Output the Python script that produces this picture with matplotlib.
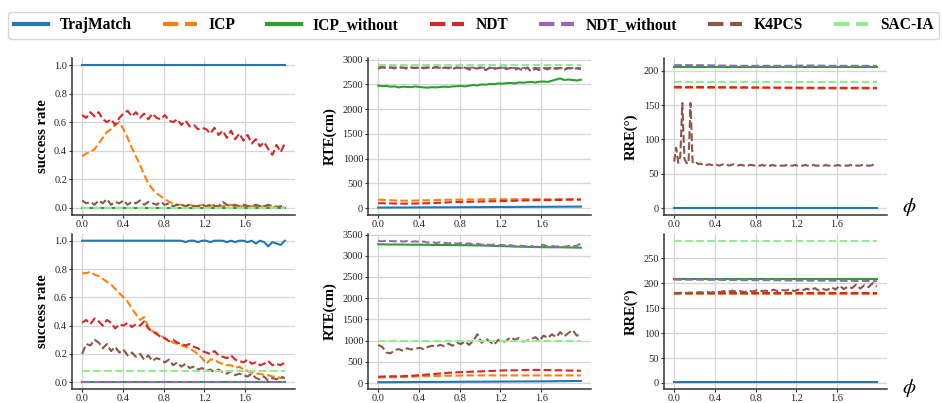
import numpy as np
import matplotlib
matplotlib.use('Agg')
import matplotlib.pyplot as plt
from matplotlib.lines import Line2D

plt.rcParams['font.family'] = ['Liberation Serif', 'DejaVu Serif']
plt.rcParams['mathtext.fontset'] = 'stix'

# ---------------- data ----------------
methods = ['TrajMatch', 'ICP', 'ICP_without', 'NDT', 'NDT_without', 'K4PCS', 'SAC-IA']
colors = ['#1f77b4', '#ff7f0e', '#2ca02c', '#d62728', '#9467bd', '#8c564b', '#90ee90']
styles = ['-', '--', '-', '--', '--', '--', '--']

x_start, x_end = 0.0, 1.99
xticks = [0.0, 0.4, 0.8, 1.2, 1.6]
xticklabels = ['0.0', '0.4', '0.8', '1.2', '1.6']

# success rate, scenario 1
sr1_traj = 1.0
sr1_icp = [0.36, 0.38, 0.39, 0.41, 0.45, 0.49, 0.53, 0.55, 0.58, 0.60,
           0.55, 0.49, 0.42, 0.36, 0.30, 0.23, 0.17, 0.13, 0.10, 0.08,
           0.06, 0.04, 0.03, 0.02, 0.02, 0.01, 0.02, 0.01, 0.01, 0.02,
           0.01, 0.01, 0.02, 0.01, 0.01, 0.01, 0.02, 0.01, 0.01, 0.01,
           0.02, 0.01, 0.01, 0.01, 0.01, 0.01, 0.00, 0.01, 0.00, 0.00]
sr1_icpw = 0.0
sr1_ndt = [0.65, 0.63, 0.67, 0.64, 0.67, 0.62, 0.60, 0.62, 0.58, 0.63,
           0.66, 0.68, 0.64, 0.67, 0.63, 0.66, 0.62, 0.66, 0.63, 0.62,
           0.65, 0.61, 0.60, 0.62, 0.58, 0.61, 0.57, 0.58, 0.55, 0.56,
           0.55, 0.52, 0.56, 0.51, 0.54, 0.49, 0.54, 0.48, 0.52, 0.47,
           0.51, 0.45, 0.48, 0.43, 0.46, 0.41, 0.37, 0.44, 0.39, 0.45]
sr1_ndtw = 0.0
sr1_k4pcs = [0.05, 0.03, 0.04, 0.02, 0.05, 0.03, 0.06, 0.02, 0.04, 0.03,
             0.05, 0.02, 0.04, 0.03, 0.05, 0.02, 0.04, 0.03, 0.02, 0.04,
             0.02, 0.03, 0.01, 0.02, 0.02, 0.01, 0.02, 0.01, 0.01, 0.02,
             0.01, 0.02, 0.01, 0.01, 0.04, 0.02, 0.01, 0.02, 0.01, 0.02,
             0.01, 0.01, 0.02, 0.01, 0.01, 0.02, 0.01, 0.00, 0.01, 0.00]
sr1_sacia = 0.0

# success rate, scenario 2
sr2_traj = [1.0] * 25 + [0.99, 1.0, 1.0, 0.99, 1.0, 1.0, 0.99, 1.0, 1.0, 1.0,
                         0.99, 1.0, 0.99, 1.0, 1.0, 0.99, 1.0, 0.98, 1.0, 0.99,
                         0.96, 0.99, 0.98, 0.97, 1.0]
sr2_icp = [0.77, 0.77, 0.78, 0.76, 0.75, 0.73, 0.71, 0.69, 0.66, 0.63,
           0.60, 0.57, 0.52, 0.48, 0.44, 0.46, 0.39, 0.36, 0.35, 0.33,
           0.31, 0.30, 0.28, 0.27, 0.26, 0.25, 0.24, 0.22, 0.20, 0.17,
           0.13, 0.16, 0.16, 0.14, 0.13, 0.12, 0.12, 0.10, 0.11, 0.09,
           0.08, 0.07, 0.06, 0.06, 0.05, 0.05, 0.04, 0.04, 0.03, 0.03]
sr2_icpw = 0.0
sr2_ndt = [0.42, 0.44, 0.41, 0.45, 0.43, 0.40, 0.44, 0.42, 0.38, 0.41,
           0.40, 0.42, 0.39, 0.41, 0.40, 0.43, 0.38, 0.36, 0.34, 0.32,
           0.31, 0.29, 0.30, 0.28, 0.27, 0.26, 0.27, 0.25, 0.24, 0.22,
           0.21, 0.20, 0.22, 0.19, 0.18, 0.17, 0.19, 0.16, 0.15, 0.14,
           0.16, 0.13, 0.14, 0.12, 0.13, 0.15, 0.12, 0.13, 0.12, 0.14]
sr2_ndtw = 0.0
sr2_k4pcs = [0.20, 0.27, 0.26, 0.30, 0.28, 0.24, 0.27, 0.22, 0.25, 0.21,
             0.23, 0.19, 0.21, 0.18, 0.20, 0.16, 0.19, 0.15, 0.17, 0.16,
             0.14, 0.16, 0.12, 0.14, 0.11, 0.13, 0.10, 0.11, 0.09, 0.10,
             0.08, 0.09, 0.07, 0.09, 0.07, 0.06, 0.08, 0.05, 0.06, 0.05,
             0.04, 0.06, 0.03, 0.02, 0.04, 0.01, 0.03, 0.02, 0.04, 0.03]
sr2_sacia = 0.08

# RTE, scenario 1
rte1_traj = [10, 12, 14, 16, 18, 20, 22, 24, 26, 28, 30]
rte1_icp = [170, 160, 150, 150, 155, 160, 165, 170, 172, 175,
            178, 180, 178, 180, 182, 180, 178, 182, 180, 180]
rte1_icpw = [2475, 2465, 2470, 2455, 2460, 2440, 2455, 2450, 2445, 2460,
             2450, 2440, 2435, 2445, 2440, 2450, 2455, 2450, 2460, 2465,
             2470, 2460, 2475, 2490, 2480, 2500, 2495, 2510, 2505, 2520,
             2515, 2525, 2530, 2520, 2540, 2535, 2545, 2550, 2540, 2555,
             2560, 2550, 2575, 2600, 2620, 2590, 2600, 2590, 2580, 2595]
rte1_ndt = [100, 95, 90, 90, 95, 100, 110, 120, 125, 130,
            135, 140, 145, 150, 155, 160, 160, 165, 170, 170]
rte1_ndtw = [2850, 2840, 2845, 2835, 2840, 2845, 2838, 2842, 2835, 2840,
             2838, 2832, 2840, 2830, 2835, 2830, 2836, 2828, 2832, 2830]
rte1_k4pcs = [2820, 2850, 2830, 2845, 2825, 2850, 2835, 2820, 2845, 2830,
              2850, 2825, 2840, 2830, 2855, 2820, 2840, 2830, 2810, 2845,
              2825, 2840, 2800, 2835, 2820, 2850, 2790, 2840, 2815, 2830,
              2845, 2810, 2835, 2800, 2825, 2780, 2840, 2760, 2820, 2790,
              2830, 2805, 2840, 2815, 2835, 2800, 2830, 2815, 2825, 2810]
rte1_sacia = 2890

# RTE, scenario 2
rte2_traj = [20, 22, 25, 27, 30, 32, 35, 38, 40, 45, 50]
rte2_icp = [130, 135, 140, 150, 160, 165, 170, 175, 178, 180,
            180, 180, 180, 180, 180, 180, 180, 180, 180, 180]
rte2_icpw = [3270, 3265, 3265, 3260, 3260, 3255, 3255, 3250, 3250, 3245,
             3240, 3230, 3225, 3215, 3210, 3205, 3200, 3200, 3195, 3190]
rte2_ndt = [150, 160, 160, 170, 190, 210, 230, 250, 260, 270,
            280, 290, 300, 300, 310, 310, 305, 300, 295, 290]
rte2_ndtw = [3350, 3340, 3355, 3345, 3340, 3350, 3335, 3345, 3330, 3340,
             3325, 3335, 3310, 3330, 3300, 3320, 3305, 3290, 3310, 3285,
             3300, 3280, 3290, 3270, 3285, 3260, 3270, 3255, 3265, 3245,
             3255, 3240, 3250, 3225, 3240, 3230, 3215, 3235, 3200, 3240,
             3260, 3210, 3230, 3215, 3225, 3210, 3230, 3220, 3235, 3290]
rte2_k4pcs = [900, 850, 720, 700, 780, 800, 760, 820, 790, 810,
              830, 800, 850, 880, 860, 900, 870, 930, 880, 950,
              920, 980, 900, 1000, 1150, 950, 1050, 980, 900, 1020,
              960, 1000, 1080, 1020, 1060, 980, 1000, 1040, 1080, 1000,
              1120, 1060, 1150, 1080, 1200, 1100, 1180, 1250, 1120, 1130]
rte2_sacia = 1000

# RRE, scenario 1
rre1_traj = 1.0
rre1_icp = [175, 175, 174.5, 174, 174]
rre1_icpw = 206
rre1_ndt = [176.5, 176, 175.5, 175, 175]
rre1_ndtw = [208, 208, 207.5, 207, 207, 207, 207.5, 207, 207, 207]
rre1_k4pcs = [68, 88, 66, 75, 153, 72, 66, 65, 153, 68, 64, 66, 64, 65, 63,
              64, 63, 64, 63, 63, 64, 63, 62, 63, 64, 63, 63, 62, 63, 64,
              63, 62, 63, 63, 62, 63, 62, 63, 63, 62, 63, 62, 62, 63, 62,
              63, 62, 62, 63, 62, 62, 63, 62, 62, 62, 63, 62, 62, 62, 63,
              62, 62, 62, 62, 63, 62, 62, 62, 63, 62, 62, 62, 62, 62, 63,
              62, 62, 62, 62, 62, 63, 62, 62, 62, 62, 62, 63, 62, 62, 62,
              62, 62, 63, 62, 62, 62, 62, 63, 62, 62]
rre1_sacia = 184

# RRE, scenario 2
rre2_traj = 1.5
rre2_icp = 179
rre2_icpw = 208
rre2_ndt = 180
rre2_ndtw = [207, 207, 206.5, 206, 206, 205.5, 205, 205, 204.5, 204]
rre2_k4pcs = [180, 180, 181, 180, 181, 180, 182, 181, 182, 181,
              183, 182, 184, 182, 185, 183, 184, 182, 185, 183,
              186, 184, 185, 183, 187, 184, 186, 185, 188, 184,
              187, 185, 189, 186, 190, 185, 188, 186, 192, 187,
              195, 188, 193, 190, 197, 189, 196, 192, 200, 193]
rre2_sacia = 285

panels = [
    (0, 0, [sr1_traj, sr1_icp, sr1_icpw, sr1_ndt, sr1_ndtw, sr1_k4pcs, sr1_sacia],
     'success rate', [0, 0.2, 0.4, 0.6, 0.8, 1.0], ['0.0', '0.2', '0.4', '0.6', '0.8', '1.0']),
    (1, 0, [sr2_traj, sr2_icp, sr2_icpw, sr2_ndt, sr2_ndtw, sr2_k4pcs, sr2_sacia],
     'success rate', [0, 0.2, 0.4, 0.6, 0.8, 1.0], ['0.0', '0.2', '0.4', '0.6', '0.8', '1.0']),
    (0, 1, [rte1_traj, rte1_icp, rte1_icpw, rte1_ndt, rte1_ndtw, rte1_k4pcs, rte1_sacia],
     'RTE(cm)', [0, 500, 1000, 1500, 2000, 2500, 3000], None),
    (1, 1, [rte2_traj, rte2_icp, rte2_icpw, rte2_ndt, rte2_ndtw, rte2_k4pcs, rte2_sacia],
     'RTE(cm)', [0, 500, 1000, 1500, 2000, 2500, 3000, 3500], None),
    (0, 2, [rre1_traj, rre1_icp, rre1_icpw, rre1_ndt, rre1_ndtw, rre1_k4pcs, rre1_sacia],
     'RRE(°)', [0, 50, 100, 150, 200], None),
    (1, 2, [rre2_traj, rre2_icp, rre2_icpw, rre2_ndt, rre2_ndtw, rre2_k4pcs, rre2_sacia],
     'RRE(°)', [0, 50, 100, 150, 200, 250], None),
]

# ---------------- figure ----------------
fig = plt.figure(figsize=(9.42, 4.03), dpi=100)
col_left = [0.0764, 0.3907, 0.7049]
col_w = 0.2367
row_bottom = [0.4672, 0.034]
row_h = [0.3888, 0.3863]

for r, c, series, ylabel, yticks, yticklabels in panels:
    ax = fig.add_axes([col_left[c], row_bottom[r], col_w, row_h[r]])
    for vals, col, ls in zip(series, colors, styles):
        if np.isscalar(vals):
            xs = [x_start, x_end]
            ys = [vals, vals]
        else:
            xs = np.linspace(x_start, x_end, len(vals))
            ys = vals
        ax.plot(xs, ys, color=col, linestyle=ls, linewidth=1.5)
    ax.set_xticks(xticks)
    ax.set_xticklabels(xticklabels)
    ax.set_yticks(yticks)
    if yticklabels is not None:
        ax.set_yticklabels(yticklabels)
    ax.set_ylabel(ylabel, fontsize=10.5, fontweight='bold')
    ax.grid(True, color='#d6d6d6', linewidth=0.9)
    ax.set_axisbelow(True)
    for s in ['top', 'right']:
        ax.spines[s].set_visible(False)
    for s in ['left', 'bottom']:
        ax.spines[s].set_color('#333333')
        ax.spines[s].set_linewidth(1.1)
    ax.tick_params(labelsize=7.5, length=2, width=0.8, colors='#333333', labelcolor='#222222', pad=1.5)

fig.text(909 / 942, 1 - 207 / 403, r'$\phi$', fontsize=15, ha='center', va='center')
fig.text(909 / 942, 1 - 388 / 403, r'$\phi$', fontsize=15, ha='center', va='center')

handles = [Line2D([0], [0], color=c, linestyle=ls, linewidth=3) for c, ls in zip(colors, styles)]
fig.legend(handles, methods, loc='upper center', bbox_to_anchor=(0.503, 0.99), ncol=7,
           prop={'family': 'Liberation Serif', 'weight': 'bold', 'size': 11.2},
           handlelength=2.2, handletextpad=0.75, columnspacing=2.0, borderpad=0.35,
           frameon=True, edgecolor='#cccccc', fancybox=True)

fig.savefig('out.png', dpi=100)
